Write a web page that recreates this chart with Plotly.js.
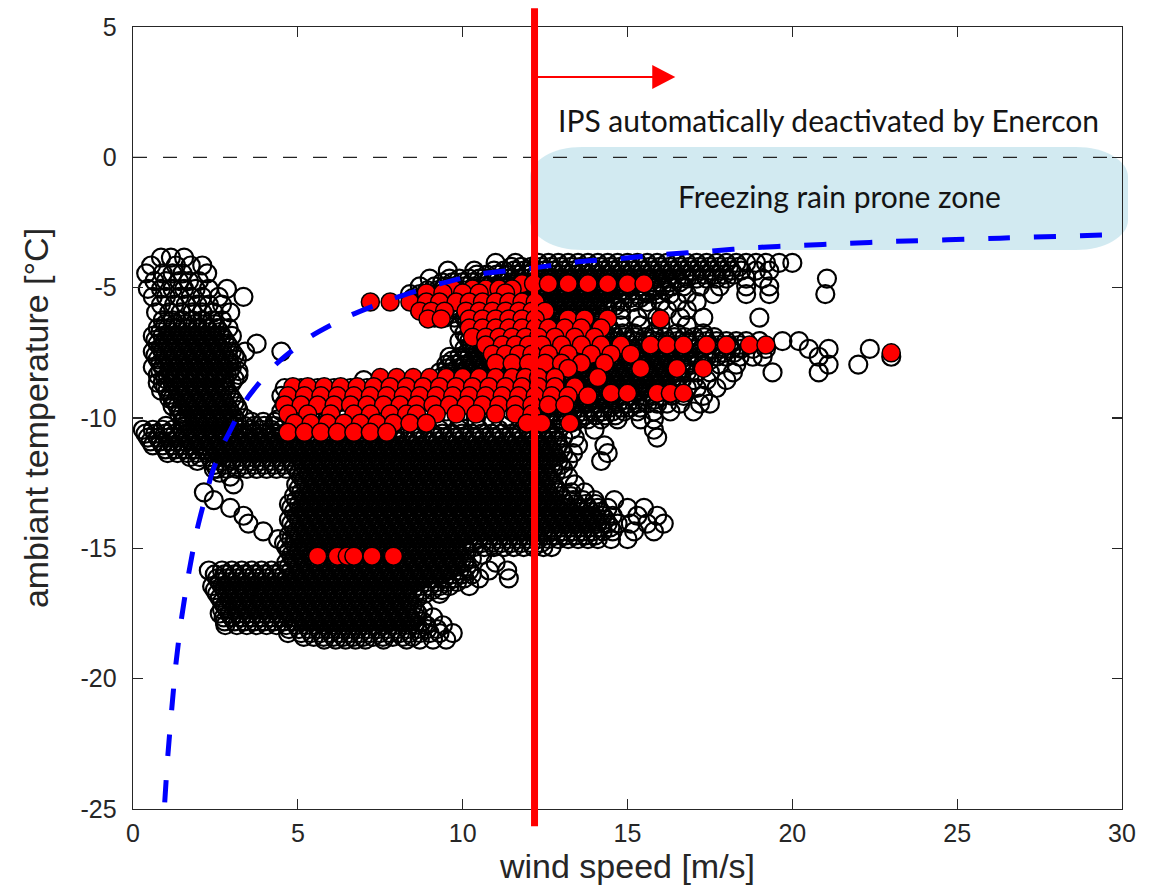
<!DOCTYPE html>
<html><head><meta charset="utf-8">
<script src="https://cdn.plot.ly/plotly-3.0.1.min.js"></script>
<style>html,body{margin:0;padding:0;background:#fff}#chart{width:1157px;height:894px}</style>
</head><body><div id="chart"></div>
<script>
// ---- axes ----
const xTicks = [0, 5, 10, 15, 20, 25, 30];
const yTicks = [5, 0, -5, -10, -15, -20, -25];
const cutoffSpeed = 12.18;   // IPS deactivation wind speed [m/s]
const freezeLevel = 0;       // 0 °C

// ---- boundary curve (blue dashed) ----
const curveV = [0.9, 0.95, 1.06, 1.18, 1.30, 1.47, 1.67, 1.94, 2.18, 2.40, 2.70, 2.94, 3.49, 4.37, 5.43, 6.58, 7.89, 9.31, 10.6, 12.0, 13.35, 14.77, 16.1, 17.5, 18.9, 20.2, 21.65, 23.0, 26.3, 30.0];
const curveT = [-26.5, -25.0, -22.9, -21.1, -19.45, -17.7, -16.1, -14.3, -13.1, -12.1, -11.1, -10.5, -9.2, -7.9, -6.84, -6.07, -5.42, -4.85, -4.46, -4.27, -4.03, -3.88, -3.73, -3.6, -3.46, -3.38, -3.3, -3.23, -3.1, -2.96];

// ---- measurements, IPS off (black open circles): rows of temperature with wind speeds ----
const leftT = [-3.85, -4.15, -4.45, -4.75, -5.05, -5.35, -5.65, -5.95, -6.25, -6.55, -6.85, -7.15, -7.45, -7.75, -8.05, -8.35, -8.65, -8.95, -9.25, -9.55, -9.85, -10.15];
const leftV = [
 [0.85, 1.15, 1.55],
 [0.55, 1.3, 1.75, 2.1],
 [0.4, 0.9, 1.2, 1.5, 2.25],
 [0.65, 1.0, 1.4, 1.7, 2.0],
 [0.45, 0.85, 1.2, 1.55, 1.9, 2.3, 2.85],
 [0.6, 1.0, 1.4, 1.75, 2.1, 2.6, 3.35],
 [0.85, 1.25, 1.6, 1.95, 2.3, 2.7],
 [0.7, 1.1, 1.45, 1.8, 2.1, 2.45, 2.95],
 [0.9, 1.2, 1.5, 1.8, 2.1, 2.4, 2.7],
 [0.75, 1.05, 1.35, 1.65, 1.95, 2.25, 2.55, 2.9],
 [0.6, 0.9, 1.2, 1.5, 1.8, 2.1, 2.4, 2.7, 3.0],
 [0.75, 1.05, 1.35, 1.65, 1.95, 2.25, 2.55, 2.85, 3.75],
 [0.6, 0.9, 1.2, 1.5, 1.8, 2.1, 2.4, 2.7, 3.0, 3.4, 4.5],
 [0.75, 1.05, 1.35, 1.65, 1.95, 2.25, 2.55, 2.85, 3.15],
 [0.6, 0.9, 1.2, 1.5, 1.8, 2.1, 2.4, 2.7, 3.0],
 [0.75, 1.05, 1.35, 1.65, 1.95, 2.25, 2.55, 2.85, 3.2],
 [0.75, 0.9, 1.2, 1.5, 1.8, 2.1, 2.4, 2.7, 3.0],
 [0.85, 1.05, 1.35, 1.65, 1.95, 2.25, 2.55, 2.85],
 [1.1, 1.2, 1.5, 1.8, 2.1, 2.4, 2.7, 3.0],
 [1.2, 1.35, 1.65, 1.95, 2.25, 2.55, 2.85, 3.15],
 [1.4, 1.5, 1.8, 2.1, 2.4, 2.7, 3.0],
 [1.5, 1.65, 1.95, 2.25, 2.55, 2.85, 3.15, 3.6, 3.95, 4.3]
];

const upperT = [-4.05, -4.35, -4.65, -4.95, -5.25, -5.55, -5.85, -6.15, -6.45, -6.75, -7.05, -7.35, -7.65, -7.95, -8.25, -8.55, -8.85, -9.15, -9.45, -9.75, -10.05];
const upperV = [
 [11.0, 11.6, 12.3, 12.6, 12.9, 13.2, 13.5, 13.8, 14.1, 14.4, 14.7, 15.0, 15.3, 15.6, 15.9, 16.2, 16.5, 16.8, 17.1, 17.4, 17.7, 18.0, 18.3, 18.6, 18.9, 19.2, 19.6, 20.0],
 [9.55, 10.35, 10.95, 11.25, 11.55, 11.85, 12.15, 12.45, 12.75, 13.05, 13.35, 13.65, 13.95, 14.25, 14.55, 14.85, 15.15, 15.45, 15.75, 16.05, 16.35, 16.65, 16.95, 17.25, 17.55, 17.85, 18.15, 18.45, 18.9, 19.3],
 [9.0, 9.6, 9.9, 10.2, 10.5, 10.8, 11.1, 11.4, 11.7, 12.0, 12.3, 12.6, 12.9, 13.2, 13.5, 13.8, 14.1, 14.4, 14.7, 15.0, 15.3, 15.6, 15.9, 16.2, 16.5, 16.8, 17.1, 17.4, 17.7, 18.0, 18.6, 19.1, 21.05],
 [8.7, 9.15, 9.45, 9.75, 10.05, 10.35, 10.65, 10.95, 11.25, 11.55, 11.85, 12.15, 12.45, 12.75, 13.05, 13.35, 13.65, 13.95, 14.25, 14.55, 14.85, 15.15, 15.45, 15.75, 16.05, 16.35, 16.7, 17.2, 17.8, 18.6, 19.3],
 [8.4, 8.7, 9.0, 9.3, 9.6, 9.9, 10.2, 10.5, 10.8, 11.1, 11.4, 11.7, 12.0, 12.3, 12.6, 12.9, 13.2, 13.5, 13.8, 14.1, 14.4, 14.7, 15.0, 15.3, 15.6, 15.9, 16.3, 16.8, 17.6, 18.6, 19.3, 21.0],
 [8.55, 8.85, 9.15, 9.45, 9.75, 10.05, 10.35, 10.65, 10.95, 11.25, 11.55, 11.85, 12.15, 12.45, 12.75, 13.05, 13.35, 13.65, 13.95, 14.25, 14.55, 14.85, 15.2, 15.6, 16.0, 16.5, 17.1],
 [8.7, 9.0, 9.3, 9.6, 9.9, 10.2, 10.5, 10.8, 11.1, 11.4, 11.7, 12.0, 12.3, 12.6, 12.9, 13.2, 13.5, 13.8, 14.1, 14.4, 14.8, 15.6, 16.2, 16.8],
 [9.15, 9.45, 9.75, 10.05, 10.35, 10.65, 10.95, 11.25, 11.55, 11.85, 12.15, 12.45, 12.75, 13.05, 13.35, 13.65, 13.95, 14.25, 14.8, 15.3, 15.9, 16.6, 17.3, 19.0],
 [9.9, 10.2, 10.5, 10.8, 11.1, 11.4, 11.7, 12.0, 12.3, 12.6, 12.9, 13.2, 13.5, 13.8, 14.1, 14.4, 14.8, 15.4, 16.0, 16.8],
 [10.05, 10.35, 10.65, 10.95, 11.25, 11.55, 11.85, 12.15, 12.45, 12.75, 13.05, 13.35, 13.65, 13.95, 14.25, 14.55, 14.85, 15.2, 15.8, 16.5, 17.3],
 [9.9, 10.2, 10.5, 10.8, 11.1, 11.4, 11.7, 12.0, 12.3, 12.6, 12.9, 13.2, 13.5, 13.8, 14.1, 14.4, 14.7, 15.0, 15.3, 15.6, 15.9, 16.2, 16.5, 16.8, 17.1, 17.4, 17.7, 18.0, 18.3, 18.6, 19.0, 19.7, 20.2],
 [10.05, 10.35, 10.65, 10.95, 11.25, 11.55, 11.85, 12.15, 12.45, 12.75, 13.05, 13.35, 13.65, 13.95, 14.25, 14.55, 14.85, 15.15, 15.45, 15.75, 16.05, 16.35, 16.65, 16.95, 17.25, 17.55, 17.85, 18.15, 18.45, 18.8, 19.2, 20.5, 21.1, 22.35],
 [9.6, 9.9, 10.2, 10.5, 10.8, 11.1, 11.4, 11.7, 12.0, 12.3, 12.6, 12.9, 13.2, 13.5, 13.8, 14.1, 14.4, 14.7, 15.0, 15.3, 15.6, 15.9, 16.2, 16.5, 16.8, 17.1, 17.4, 17.7, 18.0, 18.4, 18.8, 19.1, 20.8, 23.0],
 [9.5, 9.75, 10.05, 10.35, 10.65, 10.95, 11.25, 11.55, 11.85, 12.15, 12.45, 12.75, 13.05, 13.35, 13.65, 13.95, 14.25, 14.55, 14.85, 15.15, 15.45, 15.75, 16.05, 16.35, 16.65, 16.95, 17.3, 17.8, 18.3, 21.1, 22.0],
 [9.3, 9.6, 9.9, 10.2, 10.5, 10.8, 11.1, 11.4, 11.7, 12.0, 12.3, 12.6, 12.9, 13.2, 13.5, 13.8, 14.1, 14.4, 14.7, 15.0, 15.3, 15.6, 15.9, 16.2, 16.5, 16.8, 17.1, 17.5, 18.2, 19.4, 20.8],
 [7.0, 7.5, 8.0, 8.5, 9.0, 9.45, 9.75, 10.05, 10.35, 10.65, 10.95, 11.25, 11.55, 11.85, 12.15, 12.45, 12.75, 13.05, 13.35, 13.65, 13.95, 14.25, 14.55, 14.85, 15.15, 15.45, 15.75, 16.05, 16.35, 16.65, 17.0, 17.4, 18.0],
 [4.6, 5.1, 5.6, 6.1, 6.6, 7.1, 7.6, 8.1, 8.6, 9.1, 9.6, 10.1, 10.6, 11.1, 11.6, 12.0, 12.3, 12.6, 12.9, 13.2, 13.5, 13.8, 14.1, 14.4, 14.7, 15.0, 15.3, 15.6, 15.9, 16.2, 16.5, 16.8, 17.1, 17.7],
 [4.5, 5.0, 5.5, 6.0, 6.5, 7.0, 7.5, 8.0, 8.5, 9.0, 9.5, 10.0, 10.5, 11.0, 11.5, 12.15, 12.45, 12.75, 13.05, 13.35, 13.65, 13.95, 14.25, 14.55, 14.85, 15.15, 15.45, 15.75, 16.05, 16.35, 16.7, 17.3],
 [4.6, 5.1, 5.6, 6.1, 6.6, 7.1, 7.6, 8.1, 8.6, 9.1, 9.6, 10.1, 10.6, 11.1, 11.6, 12.0, 12.3, 12.6, 12.9, 13.2, 13.5, 13.8, 14.1, 14.4, 14.7, 15.0, 15.3, 15.6, 15.9, 16.2, 16.6, 17.2, 17.5],
 [4.5, 5.0, 5.5, 6.0, 6.5, 7.0, 7.5, 8.0, 8.5, 9.0, 9.5, 10.0, 10.5, 11.0, 11.5, 12.15, 12.45, 12.75, 13.05, 13.35, 13.65, 13.95, 14.25, 14.55, 14.9, 15.3, 15.8, 16.3, 17.0],
 [4.4, 4.9, 5.4, 5.9, 6.4, 6.9, 7.4, 7.9, 8.4, 8.9, 9.4, 9.9, 10.4, 10.9, 11.4, 12.0, 12.3, 12.6, 12.9, 13.2, 13.5, 13.8, 14.2, 14.7, 15.4, 15.8]
];

const blockT = [-10.45, -10.75, -11.05, -11.35, -11.65, -11.95, -12.25, -12.55, -12.85, -13.15, -13.45, -13.75, -14.05, -14.35, -14.65, -14.95];
const blockV = [
 [0.3, 0.6, 0.9, 1.2, 1.5, 1.8, 2.1, 2.4, 2.7, 3.0, 3.3, 3.6, 3.9, 4.2, 4.5, 5.1, 5.7, 6.3, 6.9, 7.5, 8.1, 8.7, 9.3, 9.9, 10.5, 11.1, 11.7, 12.0, 12.3, 12.6, 12.9, 13.3, 14.0, 15.8],
 [0.45, 0.75, 1.05, 1.35, 1.65, 1.95, 2.25, 2.55, 2.85, 3.15, 3.45, 3.75, 4.05, 4.35, 4.65, 4.95, 5.25, 5.55, 5.85, 6.15, 6.45, 6.75, 7.05, 7.35, 7.65, 7.95, 8.25, 8.55, 8.85, 9.15, 9.45, 9.75, 10.05, 10.35, 10.65, 10.95, 11.25, 11.55, 11.85, 12.15, 12.45, 12.75, 13.05, 13.4, 15.9],
 [0.6, 0.9, 1.2, 1.5, 1.8, 2.1, 2.4, 2.7, 3.0, 3.3, 3.6, 3.9, 4.2, 4.5, 4.8, 5.1, 5.4, 5.7, 6.0, 6.3, 6.6, 6.9, 7.2, 7.5, 7.8, 8.1, 8.4, 8.7, 9.0, 9.3, 9.6, 9.9, 10.2, 10.5, 10.8, 11.1, 11.4, 11.7, 12.0, 12.3, 12.6, 12.9, 13.5, 14.3],
 [1.05, 1.35, 1.65, 1.95, 2.25, 2.55, 2.85, 3.15, 3.45, 3.75, 4.05, 4.35, 4.65, 4.95, 5.25, 5.55, 5.85, 6.15, 6.45, 6.75, 7.05, 7.35, 7.65, 7.95, 8.25, 8.55, 8.85, 9.15, 9.45, 9.75, 10.05, 10.35, 10.65, 10.95, 11.25, 11.55, 11.85, 12.15, 12.45, 12.75, 13.05, 13.35, 14.4],
 [1.95, 2.4, 2.7, 3.0, 3.3, 3.6, 3.9, 4.2, 4.5, 4.8, 5.1, 5.4, 5.7, 6.0, 6.3, 6.6, 6.9, 7.2, 7.5, 7.8, 8.1, 8.4, 8.7, 9.0, 9.3, 9.6, 9.9, 10.2, 10.5, 10.8, 11.1, 11.4, 11.7, 12.0, 12.3, 12.6, 12.9, 13.2, 14.2],
 [2.45, 2.55, 2.85, 3.15, 3.45, 3.75, 4.05, 4.35, 4.65, 4.95, 5.25, 5.55, 5.85, 6.15, 6.45, 6.75, 7.05, 7.35, 7.65, 7.95, 8.25, 8.55, 8.85, 9.15, 9.45, 9.75, 10.05, 10.35, 10.65, 10.95, 11.25, 11.55, 11.85, 12.15, 12.45, 12.75, 13.05],
 [2.95, 5.1, 5.4, 5.7, 6.0, 6.3, 6.6, 6.9, 7.2, 7.5, 7.8, 8.1, 8.4, 8.7, 9.0, 9.3, 9.6, 9.9, 10.2, 10.5, 10.8, 11.1, 11.4, 11.7, 12.0, 12.3, 12.6, 13.2],
 [3.05, 4.95, 5.25, 5.55, 5.85, 6.15, 6.45, 6.75, 7.05, 7.35, 7.65, 7.95, 8.25, 8.55, 8.85, 9.15, 9.45, 9.75, 10.05, 10.35, 10.65, 10.95, 11.25, 11.55, 11.85, 12.15, 12.45, 12.75, 13.4],
 [2.15, 5.1, 5.4, 5.7, 6.0, 6.3, 6.6, 6.9, 7.2, 7.5, 7.8, 8.1, 8.4, 8.7, 9.0, 9.3, 9.6, 9.9, 10.2, 10.5, 10.8, 11.1, 11.4, 11.7, 12.0, 12.3, 12.6, 12.9, 13.3, 13.7],
 [2.45, 4.95, 5.25, 5.55, 5.85, 6.15, 6.45, 6.75, 7.05, 7.35, 7.65, 7.95, 8.25, 8.55, 8.85, 9.15, 9.45, 9.75, 10.05, 10.35, 10.65, 10.95, 11.25, 11.55, 11.85, 12.15, 12.45, 12.75, 13.05, 13.35, 13.65, 14.0, 14.6],
 [2.95, 4.8, 5.1, 5.4, 5.7, 6.0, 6.3, 6.6, 6.9, 7.2, 7.5, 7.8, 8.1, 8.4, 8.7, 9.0, 9.3, 9.6, 9.9, 10.2, 10.5, 10.8, 11.1, 11.4, 11.7, 12.0, 12.3, 12.6, 12.9, 13.2, 13.5, 13.8, 14.1, 14.4, 15.0, 15.5],
 [3.35, 4.95, 5.25, 5.55, 5.85, 6.15, 6.45, 6.75, 7.05, 7.35, 7.65, 7.95, 8.25, 8.55, 8.85, 9.15, 9.45, 9.75, 10.05, 10.35, 10.65, 10.95, 11.25, 11.55, 11.85, 12.15, 12.45, 12.75, 13.05, 13.35, 13.65, 13.95, 14.25, 14.55, 15.3, 15.9],
 [3.5, 4.8, 5.1, 5.4, 5.7, 6.0, 6.3, 6.6, 6.9, 7.2, 7.5, 7.8, 8.1, 8.4, 8.7, 9.0, 9.3, 9.6, 9.9, 10.2, 10.5, 10.8, 11.1, 11.4, 11.7, 12.0, 12.3, 12.6, 12.9, 13.2, 13.5, 13.8, 14.1, 14.4, 14.7, 15.1, 15.6, 16.1],
 [3.95, 4.95, 5.25, 5.55, 5.85, 6.15, 6.45, 6.75, 7.05, 7.35, 7.65, 7.95, 8.25, 8.55, 8.85, 9.15, 9.45, 9.75, 10.05, 10.35, 10.65, 10.95, 11.25, 11.55, 11.85, 12.15, 12.45, 12.75, 13.05, 13.35, 13.65, 13.95, 14.25, 14.55, 15.2, 15.8],
 [4.4, 4.8, 5.1, 5.4, 5.7, 6.0, 6.3, 6.6, 6.9, 7.2, 7.5, 7.8, 8.1, 8.4, 8.7, 9.0, 9.3, 9.6, 9.9, 10.2, 10.5, 10.8, 11.1, 11.4, 11.7, 12.0, 12.3, 12.6, 12.9, 13.2, 13.5, 13.8, 14.1, 14.5, 15.0],
 [4.65, 4.95, 5.25, 5.55, 5.85, 6.15, 6.45, 6.75, 7.05, 7.35, 7.65, 7.95, 8.25, 8.55, 8.85, 9.15, 9.45, 9.75, 10.05, 10.35, 10.65, 10.95, 11.25, 11.55, 11.85, 12.15, 12.45, 12.7]
];

const lowerT = [-15.25, -15.55, -15.85, -16.15, -16.45, -16.75, -17.05, -17.35, -17.65, -17.95, -18.25, -18.5];
const lowerV = [
 [4.8, 5.1, 5.4, 5.7, 6.0, 6.3, 6.6, 6.9, 7.2, 7.5, 7.8, 8.1, 8.4, 8.7, 9.0, 9.3, 9.6, 9.9, 10.6],
 [4.65, 4.95, 5.25, 5.55, 5.85, 6.15, 6.45, 6.75, 7.05, 7.35, 7.65, 7.95, 8.25, 8.55, 8.85, 9.15, 9.45, 9.75, 10.05, 11.0],
 [2.3, 2.7, 3.0, 3.3, 3.6, 3.9, 4.2, 4.5, 4.8, 5.1, 5.4, 5.7, 6.0, 6.3, 6.6, 6.9, 7.2, 7.5, 7.8, 8.1, 8.4, 8.7, 9.0, 9.3, 9.6, 9.9, 10.2, 10.8, 11.35],
 [2.55, 2.85, 3.15, 3.45, 3.75, 4.05, 4.35, 4.65, 4.95, 5.25, 5.55, 5.85, 6.15, 6.45, 6.75, 7.05, 7.35, 7.65, 7.95, 8.25, 8.55, 8.85, 9.15, 9.45, 9.75, 10.05, 10.5, 11.4],
 [2.4, 2.7, 3.0, 3.3, 3.6, 3.9, 4.2, 4.5, 4.8, 5.1, 5.4, 5.7, 6.0, 6.3, 6.6, 6.9, 7.2, 7.5, 7.8, 8.1, 8.4, 8.7, 9.0, 9.3, 9.6, 10.2],
 [2.55, 2.85, 3.15, 3.45, 3.75, 4.05, 4.35, 4.65, 4.95, 5.25, 5.55, 5.85, 6.15, 6.45, 6.75, 7.05, 7.35, 7.65, 7.95, 8.25, 8.55, 8.85, 9.3],
 [2.7, 3.0, 3.3, 3.6, 3.9, 4.2, 4.5, 4.8, 5.1, 5.4, 5.7, 6.0, 6.3, 6.6, 6.9, 7.2, 7.5, 7.8, 8.1, 8.4],
 [2.7, 2.85, 3.15, 3.45, 3.75, 4.05, 4.35, 4.65, 4.95, 5.25, 5.55, 5.85, 6.15, 6.45, 6.75, 7.05, 7.35, 7.65, 7.95, 8.25, 8.55, 8.8],
 [2.75, 3.0, 3.3, 3.6, 3.9, 4.2, 4.5, 4.8, 5.1, 5.4, 5.7, 6.0, 6.3, 6.6, 6.9, 7.2, 7.5, 7.8, 8.1, 8.4, 8.6, 9.1],
 [2.8, 3.15, 3.45, 3.75, 4.05, 4.35, 4.65, 4.95, 5.25, 5.55, 5.85, 6.15, 6.45, 6.75, 7.05, 7.35, 7.65, 7.95, 8.25, 8.55, 8.9, 9.4],
 [4.7, 5.1, 5.4, 5.7, 6.0, 6.3, 6.6, 6.9, 7.2, 7.5, 7.8, 8.1, 8.4, 8.7, 9.0, 9.3, 9.7],
 [5.8, 6.15, 6.45, 6.75, 7.05, 7.6, 8.3, 8.7, 9.1, 9.5]
];

// dense interior readings between the rows above
const denseT = [-4.2, -4.5, -4.8, -5.1, -5.4, -5.7, -6.0, -6.3, -6.6, -6.9, -7.2, -7.5, -7.8, -8.1, -8.4, -8.7, -9.0, -9.3, -9.6, -9.9, -10.2,
  -6.4, -6.7, -7.0, -7.3, -7.6, -7.9, -8.2, -8.5, -8.8, -9.1, -9.4, -9.7, -10.0, -10.3,
  -10.6, -10.9, -11.2, -11.5, -11.8, -12.1, -12.4, -12.7, -13.0, -13.3, -13.6, -13.9, -14.2, -14.5, -14.8, -15.1,
  -15.4, -15.7, -16.0, -16.3, -16.6, -16.9, -17.2, -17.5, -17.8, -18.1, -18.4];
const denseV = [
 [11.48, 11.78, 12.08, 12.38, 12.68, 12.98, 13.28, 13.58, 13.88, 14.18, 14.48, 14.78, 15.08, 15.38, 15.68, 15.98, 16.28, 16.58, 16.88, 17.18, 17.48, 17.78, 18.08, 18.38],
 [10.43, 10.73, 11.03, 11.33, 11.63, 11.93, 12.23, 12.53, 12.83, 13.13, 13.43, 13.73, 14.03, 14.33, 14.63, 14.93, 15.23, 15.53, 15.83, 16.13, 16.43, 16.73, 17.03, 17.33, 17.63, 17.93, 18.23],
 [9.38, 9.68, 9.98, 10.28, 10.58, 10.88, 11.18, 11.48, 11.78, 12.08, 12.38, 12.68, 12.98, 13.28, 13.58, 13.88, 14.18, 14.48, 14.78, 15.08, 15.38, 15.68, 15.98, 16.28, 16.58],
 [8.93, 9.23, 9.53, 9.83, 10.13, 10.43, 10.73, 11.03, 11.33, 11.63, 11.93, 12.23, 12.53, 12.83, 13.13, 13.43, 13.73, 14.03, 14.33, 14.63, 14.93, 15.23, 15.53, 15.83, 16.13],
 [8.48, 8.78, 9.08, 9.38, 9.68, 9.98, 10.28, 10.58, 10.88, 11.18, 11.48, 11.78, 12.08, 12.38, 12.68, 12.98, 13.28, 13.58, 13.88, 14.18, 14.48, 14.78, 15.08, 15.38],
 [8.93, 9.23, 9.53, 9.83, 10.13, 10.43, 10.73, 11.03, 11.33, 11.63, 11.93, 12.23, 12.53, 12.83, 13.13, 13.43, 13.73, 14.03, 14.33, 14.63],
 [9.38, 9.68, 9.98, 10.28, 10.58, 10.88, 11.18, 11.48, 11.78, 12.08, 12.38, 12.68, 12.98, 13.28, 13.58, 13.88, 14.18],
 [10.13, 10.43, 10.73, 11.03, 11.33, 11.63, 11.93, 12.23, 12.53, 12.83, 13.13, 13.43, 13.73, 14.03],
 [10.28, 10.58, 10.88, 11.18, 11.48, 11.78, 12.08, 12.38, 12.68, 12.98, 13.28, 13.58, 13.88, 14.18, 14.48],
 [10.13, 10.43, 10.73, 11.03, 11.33, 11.63, 11.93, 12.23, 12.53, 12.83, 13.13, 13.43, 13.73, 14.03, 14.33, 14.63, 14.93, 15.23, 15.53, 15.83, 16.13, 16.43, 16.73, 17.03, 17.33, 17.63],
 [10.28, 10.58, 10.88, 11.18, 11.48, 11.78, 12.08, 12.38, 12.68, 12.98, 13.28, 13.58, 13.88, 14.18, 14.48, 14.78, 15.08, 15.38, 15.68, 15.98, 16.28, 16.58, 16.88, 17.18, 17.48, 17.78, 18.08, 18.38],
 [10.13, 10.43, 10.73, 11.03, 11.33, 11.63, 11.93, 12.23, 12.53, 12.83, 13.13, 13.43, 13.73, 14.03, 14.33, 14.63, 14.93, 15.23, 15.53, 15.83, 16.13, 16.43, 16.73, 17.03, 17.33, 17.63, 17.93, 18.23],
 [9.68, 9.98, 10.28, 10.58, 10.88, 11.18, 11.48, 11.78, 12.08, 12.38, 12.68, 12.98, 13.28, 13.58, 13.88, 14.18, 14.48, 14.78, 15.08, 15.38, 15.68, 15.98, 16.28, 16.58, 16.88, 17.18, 17.48],
 [9.53, 9.83, 10.13, 10.43, 10.73, 11.03, 11.33, 11.63, 11.93, 12.23, 12.53, 12.83, 13.13, 13.43, 13.73, 14.03, 14.33, 14.63, 14.93, 15.23, 15.53, 15.83, 16.13, 16.43, 16.73],
 [9.38, 9.68, 9.98, 10.28, 10.58, 10.88, 11.18, 11.48, 11.78, 12.08, 12.38, 12.68, 12.98, 13.28, 13.58, 13.88, 14.18, 14.48, 14.78, 15.08, 15.38, 15.68, 15.98, 16.28, 16.58],
 [12.23, 12.53, 12.83, 13.13, 13.43, 13.73, 14.03, 14.33, 14.63, 14.93, 15.23, 15.53, 15.83, 16.13, 16.43],
 [12.38, 12.68, 12.98, 13.28, 13.58, 13.88, 14.18, 14.48, 14.78, 15.08, 15.38, 15.68, 15.98, 16.28],
 [12.23, 12.53, 12.83, 13.13, 13.43, 13.73, 14.03, 14.33, 14.63, 14.93, 15.23, 15.53, 15.83],
 [12.38, 12.68, 12.98, 13.28, 13.58, 13.88, 14.18, 14.48, 14.78, 15.08, 15.38],
 [12.23, 12.53, 12.83, 13.13, 13.43, 13.73, 14.03, 14.33, 14.63],
 [12.38, 12.68, 12.98, 13.28],
 [0.98, 1.28, 1.58, 1.88, 2.18, 2.48],
 [0.83, 1.13, 1.43, 1.73, 2.03, 2.33, 2.63],
 [0.68, 0.98, 1.28, 1.58, 1.88, 2.18, 2.48, 2.78],
 [0.83, 1.13, 1.43, 1.73, 2.03, 2.33, 2.63, 2.93],
 [0.68, 0.98, 1.28, 1.58, 1.88, 2.18, 2.48, 2.78, 3.08],
 [0.83, 1.13, 1.43, 1.73, 2.03, 2.33, 2.63, 2.93],
 [0.83, 1.13, 1.43, 1.73, 2.03, 2.33, 2.63, 2.93, 3.2],
 [0.98, 1.28, 1.58, 1.88, 2.18, 2.48, 2.78, 3.08],
 [0.98, 1.28, 1.58, 1.88, 2.18, 2.48, 2.78],
 [1.13, 1.43, 1.73, 2.03, 2.33, 2.63, 2.93],
 [1.28, 1.58, 1.88, 2.18, 2.48, 2.78, 3.08],
 [1.43, 1.73, 2.03, 2.33, 2.63, 2.93, 3.2],
 [1.58, 1.88, 2.18, 2.48, 2.78, 3.08, 3.38],
 [1.0, 1.58, 1.88, 2.18, 2.48, 2.78, 3.08, 3.38, 3.68, 3.98, 4.28],
 [0.38, 0.68, 0.98, 1.28, 1.58, 1.88, 2.18, 2.48, 2.78, 3.08, 3.38, 3.68, 3.98, 4.28, 4.58, 4.88, 5.18, 5.48, 5.78, 6.08, 6.38, 6.68, 6.98, 7.28, 7.58, 7.88, 8.18, 8.48, 8.78, 9.08, 9.38, 9.68, 9.98, 10.28, 10.58, 10.88, 11.18, 11.48, 11.78, 12.08, 12.38, 12.68],
 [0.53, 0.83, 1.13, 1.43, 1.73, 2.03, 2.33, 2.63, 2.93, 3.23, 3.53, 3.83, 4.13, 4.43, 4.73, 5.03, 5.33, 5.63, 5.93, 6.23, 6.53, 6.83, 7.13, 7.43, 7.73, 8.03, 8.33, 8.63, 8.93, 9.23, 9.53, 9.83, 10.13, 10.43, 10.73, 11.03, 11.33, 11.63, 11.93, 12.23, 12.53, 12.83],
 [0.98, 1.28, 1.58, 1.88, 2.18, 2.48, 2.78, 3.08, 3.38, 3.68, 3.98, 4.28, 4.58, 4.88, 5.18, 5.48, 5.78, 6.08, 6.38, 6.68, 6.98, 7.28, 7.58, 7.88, 8.18, 8.48, 8.78, 9.08, 9.38, 9.68, 9.98, 10.28, 10.58, 10.88, 11.18, 11.48, 11.78, 12.08, 12.38, 12.68, 12.98],
 [1.73, 2.03, 2.33, 2.63, 2.93, 3.23, 3.53, 3.83, 4.13, 4.43, 4.73, 5.03, 5.33, 5.63, 5.93, 6.23, 6.53, 6.83, 7.13, 7.43, 7.73, 8.03, 8.33, 8.63, 8.93, 9.23, 9.53, 9.83, 10.13, 10.43, 10.73, 11.03, 11.33, 11.63, 11.93, 12.23, 12.53, 12.83],
 [2.48, 2.78, 3.08, 3.38, 3.68, 3.98, 4.28, 4.58, 4.88, 5.18, 5.48, 5.78, 6.08, 6.38, 6.68, 6.98, 7.28, 7.58, 7.88, 8.18, 8.48, 8.78, 9.08, 9.38, 9.68, 9.98, 10.28, 10.58, 10.88, 11.18, 11.48, 11.78, 12.08, 12.38, 12.68, 12.98],
 [2.63, 5.03, 5.33, 5.63, 5.93, 6.23, 6.53, 6.83, 7.13, 7.43, 7.73, 8.03, 8.33, 8.63, 8.93, 9.23, 9.53, 9.83, 10.13, 10.43, 10.73, 11.03, 11.33, 11.63, 11.93, 12.23, 12.53, 12.83],
 [5.18, 5.48, 5.78, 6.08, 6.38, 6.68, 6.98, 7.28, 7.58, 7.88, 8.18, 8.48, 8.78, 9.08, 9.38, 9.68, 9.98, 10.28, 10.58, 10.88, 11.18, 11.48, 11.78, 12.08, 12.38, 12.68],
 [5.03, 5.33, 5.63, 5.93, 6.23, 6.53, 6.83, 7.13, 7.43, 7.73, 8.03, 8.33, 8.63, 8.93, 9.23, 9.53, 9.83, 10.13, 10.43, 10.73, 11.03, 11.33, 11.63, 11.93, 12.23, 12.53, 12.83],
 [4.88, 5.18, 5.48, 5.78, 6.08, 6.38, 6.68, 6.98, 7.28, 7.58, 7.88, 8.18, 8.48, 8.78, 9.08, 9.38, 9.68, 9.98, 10.28, 10.58, 10.88, 11.18, 11.48, 11.78, 12.08, 12.38, 12.68, 12.98, 13.28],
 [4.73, 5.03, 5.33, 5.63, 5.93, 6.23, 6.53, 6.83, 7.13, 7.43, 7.73, 8.03, 8.33, 8.63, 8.93, 9.23, 9.53, 9.83, 10.13, 10.43, 10.73, 11.03, 11.33, 11.63, 11.93, 12.23, 12.53, 12.83, 13.13, 13.43, 13.73, 14.03],
 [4.88, 5.18, 5.48, 5.78, 6.08, 6.38, 6.68, 6.98, 7.28, 7.58, 7.88, 8.18, 8.48, 8.78, 9.08, 9.38, 9.68, 9.98, 10.28, 10.58, 10.88, 11.18, 11.48, 11.78, 12.08, 12.38, 12.68, 12.98, 13.28, 13.58, 13.88, 14.18],
 [4.73, 5.03, 5.33, 5.63, 5.93, 6.23, 6.53, 6.83, 7.13, 7.43, 7.73, 8.03, 8.33, 8.63, 8.93, 9.23, 9.53, 9.83, 10.13, 10.43, 10.73, 11.03, 11.33, 11.63, 11.93, 12.23, 12.53, 12.83, 13.13, 13.43, 13.73, 14.03, 14.33],
 [4.88, 5.18, 5.48, 5.78, 6.08, 6.38, 6.68, 6.98, 7.28, 7.58, 7.88, 8.18, 8.48, 8.78, 9.08, 9.38, 9.68, 9.98, 10.28, 10.58, 10.88, 11.18, 11.48, 11.78, 12.08, 12.38, 12.68, 12.98, 13.28, 13.58, 13.88, 14.18, 14.48],
 [4.73, 5.03, 5.33, 5.63, 5.93, 6.23, 6.53, 6.83, 7.13, 7.43, 7.73, 8.03, 8.33, 8.63, 8.93, 9.23, 9.53, 9.83, 10.13, 10.43, 10.73, 11.03, 11.33, 11.63, 11.93, 12.23, 12.53, 12.83, 13.13, 13.43, 13.73, 14.03],
 [4.58, 4.88, 5.18, 5.48, 5.78, 6.08, 6.38, 6.68, 6.98, 7.28, 7.58, 7.88, 8.18, 8.48, 8.78, 9.08, 9.38, 9.68, 9.98, 10.28, 10.58, 10.88, 11.18, 11.48, 11.78, 12.08, 12.38],
 [4.73, 5.03, 5.33, 5.63, 5.93, 6.23, 6.53, 6.83, 7.13, 7.43, 7.73, 8.03, 8.33, 8.63, 8.93, 9.23, 9.53, 9.83, 10.13],
 [4.88, 5.18, 5.48, 5.78, 6.08, 6.38, 6.68, 6.98, 7.28, 7.58, 7.88, 8.18, 8.48, 8.78, 9.08, 9.38, 9.68, 9.98, 10.28],
 [4.73, 5.03, 5.33, 5.63, 5.93, 6.23, 6.53, 6.83, 7.13, 7.43, 7.73, 8.03, 8.33, 8.63, 8.93, 9.23, 9.53, 9.83, 10.13],
 [2.48, 2.78, 3.08, 3.38, 3.68, 3.98, 4.28, 4.58, 4.88, 5.18, 5.48, 5.78, 6.08, 6.38, 6.68, 6.98, 7.28, 7.58, 7.88, 8.18, 8.48, 8.78, 9.08, 9.38, 9.68, 9.98, 10.28],
 [2.63, 2.93, 3.23, 3.53, 3.83, 4.13, 4.43, 4.73, 5.03, 5.33, 5.63, 5.93, 6.23, 6.53, 6.83, 7.13, 7.43, 7.73, 8.03, 8.33, 8.63, 8.93, 9.23, 9.53, 9.83],
 [2.48, 2.78, 3.08, 3.38, 3.68, 3.98, 4.28, 4.58, 4.88, 5.18, 5.48, 5.78, 6.08, 6.38, 6.68, 6.98, 7.28, 7.58, 7.88, 8.18, 8.48, 8.78, 9.08, 9.38],
 [2.63, 2.93, 3.23, 3.53, 3.83, 4.13, 4.43, 4.73, 5.03, 5.33, 5.63, 5.93, 6.23, 6.53, 6.83, 7.13, 7.43, 7.73, 8.03, 8.33, 8.63],
 [2.78, 3.08, 3.38, 3.68, 3.98, 4.28, 4.58, 4.88, 5.18, 5.48, 5.78, 6.08, 6.38, 6.68, 6.98, 7.28, 7.58, 7.88, 8.18, 8.48],
 [2.63, 2.93, 3.23, 3.53, 3.83, 4.13, 4.43, 4.73, 5.03, 5.33, 5.63, 5.93, 6.23, 6.53, 6.83, 7.13, 7.43, 7.73, 8.03, 8.33, 8.63],
 [2.78, 3.08, 3.38, 3.68, 3.98, 4.28, 4.58, 4.88, 5.18, 5.48, 5.78, 6.08, 6.38, 6.68, 6.98, 7.28, 7.58, 7.88, 8.18, 8.48, 8.78],
 [4.73, 5.03, 5.33, 5.63, 5.93, 6.23, 6.53, 6.83, 7.13, 7.43, 7.73, 8.03, 8.33, 8.63, 8.93, 9.23],
 [5.18, 5.48, 5.78, 6.08, 6.38, 6.68, 6.98, 7.28, 7.58, 7.88, 8.18, 8.48]
];

// ---- measurements, IPS active (red filled circles) ----
const redT = [-4.85, -5.05, -5.2, -5.55, -5.9, -6.2, -6.55, -6.9, -7.2, -7.5, -7.55, -7.9, -8.1, -8.45, -8.8, -9.05, -9.15, -9.5, -9.85, -10.2, -10.55, -15.3];
const redV = [
 [11.8, 12.15, 12.6, 13.2, 13.8, 14.4, 15.0, 15.5],
 [9.7, 10.3, 10.7, 11.1, 11.5],
 [8.9, 9.4, 10.0, 10.5, 11.3],
 [7.2, 7.8, 8.4, 8.9, 9.3, 9.8, 10.2, 10.6, 11.0, 11.4, 11.8, 12.2],
 [8.7, 9.05, 9.45, 10.1, 10.5, 10.9, 11.3, 11.7, 12.1, 12.5],
 [8.95, 9.35, 10.2, 10.6, 11.0, 11.4, 11.8, 12.2, 13.2, 13.7, 14.4, 16.0],
 [10.2, 10.6, 11.0, 11.4, 11.8, 12.2, 12.6, 13.1, 13.6, 14.2],
 [10.3, 10.7, 11.1, 11.5, 11.9, 12.3, 12.8, 13.4, 14.0],
 [10.7, 11.2, 11.6, 12.0, 12.4, 13.0, 13.6, 14.2, 14.8, 15.7, 16.2, 16.7, 17.4, 18.0, 18.7, 19.2],
 [23.0],
 [10.9, 11.3, 11.7, 12.1, 12.6, 13.2, 13.9, 14.5, 15.1],
 [11.0, 11.5, 12.0, 12.5, 13.0, 13.6, 14.3],
 [13.2, 15.4, 16.5, 17.3],
 [7.5, 8.0, 8.5, 9.0, 9.5, 10.0, 10.5, 11.0, 11.5, 11.9, 12.3, 12.8, 14.1],
 [4.85, 5.3, 5.8, 6.3, 6.8, 7.3, 7.8, 8.3, 8.8, 9.3, 9.8, 10.3, 10.8, 11.3, 11.8, 12.3, 12.8, 13.4],
 [14.5, 15.0, 15.9, 16.3, 16.7],
 [4.7, 5.2, 5.7, 6.2, 6.7, 7.2, 7.7, 8.2, 8.7, 9.2, 9.7, 10.2, 10.7, 11.2, 11.7, 12.2, 12.7, 13.2, 13.8],
 [4.6, 5.1, 5.6, 6.1, 6.6, 7.1, 7.6, 8.1, 8.6, 9.1, 9.6, 10.1, 10.6, 11.1, 11.6, 12.1, 12.6, 13.1],
 [4.7, 5.3, 6.0, 6.7, 7.2, 7.8, 8.3, 8.6, 9.2, 9.8, 10.4, 11.0, 11.6, 12.1],
 [4.9, 5.4, 5.9, 6.4, 6.9, 7.4, 7.9, 8.4, 8.9, 11.95, 12.4, 13.25],
 [4.7, 5.2, 5.7, 6.2, 6.7, 7.2, 7.7],
 [5.6, 6.2, 6.5, 6.7, 7.25, 7.9]
];

// ---- build ----
function expand(groups) {
  const x = [], y = [];
  groups.forEach(([T, V]) => T.forEach((t, i) => V[i].forEach(v => { x.push(v); y.push(t); })));
  return {x, y};
}
const blk = expand([[leftT, leftV], [upperT, upperV], [blockT, blockV], [lowerT, lowerV], [denseT, denseV]]);
const red = expand([[redT, redV]]);

const L = 133, R = 1122, TOP = 27, BOT = 809;
const px = v => (v - L) / (R - L);
const py = v => (BOT - v) / (BOT - TOP);
const P = (a, b) => px(a).toFixed(4) + ',' + py(b).toFixed(4);
// rounded freezing-rain zone (pixel outline converted to paper units)
const zl = 530, zr = 1128, zt = 147, zb = 250, rx = 52, ry = 30, k = 0.5523;
const zonePath = `M ${P(zl+rx,zt)} L ${P(zr-rx,zt)} C ${P(zr-rx+k*rx,zt)} ${P(zr,zt+ry-k*ry)} ${P(zr,zt+ry)} L ${P(zr,zb-ry)} C ${P(zr,zb-ry+k*ry)} ${P(zr-rx+k*rx,zb)} ${P(zr-rx,zb)} L ${P(zl+rx,zb)} C ${P(zl+rx-k*rx,zb)} ${P(zl,zb-ry+k*ry)} ${P(zl,zb-ry)} L ${P(zl,zt+ry)} C ${P(zl,zt+ry-k*ry)} ${P(zl+rx-k*rx,zt)} ${P(zl+rx,zt)} Z`;

const arrowY = py(77), headH = 12 / (BOT - TOP);
const arrowTip = 16.45, arrowBase = 15.75;

const axisCol = '#262626';
const tickFont = {family: 'Liberation Sans, Arial, sans-serif', size: 25, color: axisCol};
const titleFont = {family: 'Liberation Sans, Arial, sans-serif', size: 34, color: axisCol};
const annFont = {family: 'Lato, sans-serif', size: 30, color: '#141414'};

const traces = [
  {type: 'scatter', mode: 'markers', x: blk.x, y: blk.y, name: 'IPS off',
   marker: {symbol: 'circle', size: 18, color: 'rgba(0,0,0,0)', line: {width: 2.2, color: '#000'}}, hoverinfo: 'skip'},
  {type: 'scatter', mode: 'markers', x: red.x, y: red.y, name: 'IPS on',
   marker: {symbol: 'circle', size: 18, color: '#ff0000', line: {width: 1.5, color: '#000'}}, hoverinfo: 'skip'},
  {type: 'scatter', mode: 'lines', x: curveV, y: curveT, name: 'limit',
   line: {color: '#0000ff', width: 5, dash: '22px,24px', shape: 'spline', smoothing: 0.6}, hoverinfo: 'skip'}
];

const layout = {
  width: 1157, height: 894,
  margin: {l: L, r: 1157 - R, t: TOP, b: 894 - BOT},
  paper_bgcolor: '#fff', plot_bgcolor: '#fff',
  showlegend: false,
  xaxis: {range: [0, 30], tickvals: xTicks, ticktext: xTicks.map(String), ticks: 'inside', ticklen: 10, tickwidth: 1.3, tickcolor: axisCol,
    showline: true, linecolor: axisCol, linewidth: 1.3, mirror: 'ticks', showgrid: false, zeroline: false, tickfont: tickFont,
    ticklabelstandoff: 2,
    title: {text: 'wind speed [m/s]', font: titleFont, standoff: 8}},
  yaxis: {range: [-25, 5], tickvals: yTicks, ticktext: yTicks.map(String), ticks: 'inside', ticklen: 10, tickwidth: 1.3, tickcolor: axisCol,
    showline: true, linecolor: axisCol, linewidth: 1.3, mirror: 'ticks', showgrid: false, zeroline: false, tickfont: tickFont,
    ticklabelstandoff: 10,
    title: {text: 'ambiant temperature [°C]', font: titleFont, standoff: 21}},
  shapes: [
    {type: 'path', xref: 'paper', yref: 'paper', path: zonePath, fillcolor: 'rgba(173,216,230,0.55)', line: {width: 0}, layer: 'below'},
    {type: 'line', xref: 'paper', yref: 'y', x0: 0, x1: 1, y0: freezeLevel, y1: freezeLevel, line: {color: '#222', width: 1.4, dash: '14px,16px'}},
    {type: 'line', xref: 'x', yref: 'paper', x0: cutoffSpeed, x1: cutoffSpeed, y0: -0.022, y1: 1.024, line: {color: '#ff0000', width: 7}},
    {type: 'line', xref: 'x', yref: 'paper', x0: cutoffSpeed, x1: arrowBase + 0.1, y0: arrowY, y1: arrowY, line: {color: '#ff0000', width: 2}},
    {type: 'path', xref: 'x', yref: 'paper', path: `M ${arrowBase},${arrowY + headH} L ${arrowTip},${arrowY} L ${arrowBase},${arrowY - headH} Z`, fillcolor: '#ff0000', line: {width: 0}}
  ],
  annotations: [
    {xref: 'paper', yref: 'paper', x: px(828.5), y: py(120), text: 'IPS automatically deactivated by Enercon', showarrow: false, font: annFont, xanchor: 'center', yanchor: 'middle'},
    {xref: 'paper', yref: 'paper', x: px(839), y: py(196), text: 'Freezing rain prone zone', showarrow: false, font: annFont, xanchor: 'center', yanchor: 'middle'}
  ]
};

Plotly.newPlot('chart', traces, layout, {staticPlot: true, displayModeBar: false});
</script>
</body></html>
